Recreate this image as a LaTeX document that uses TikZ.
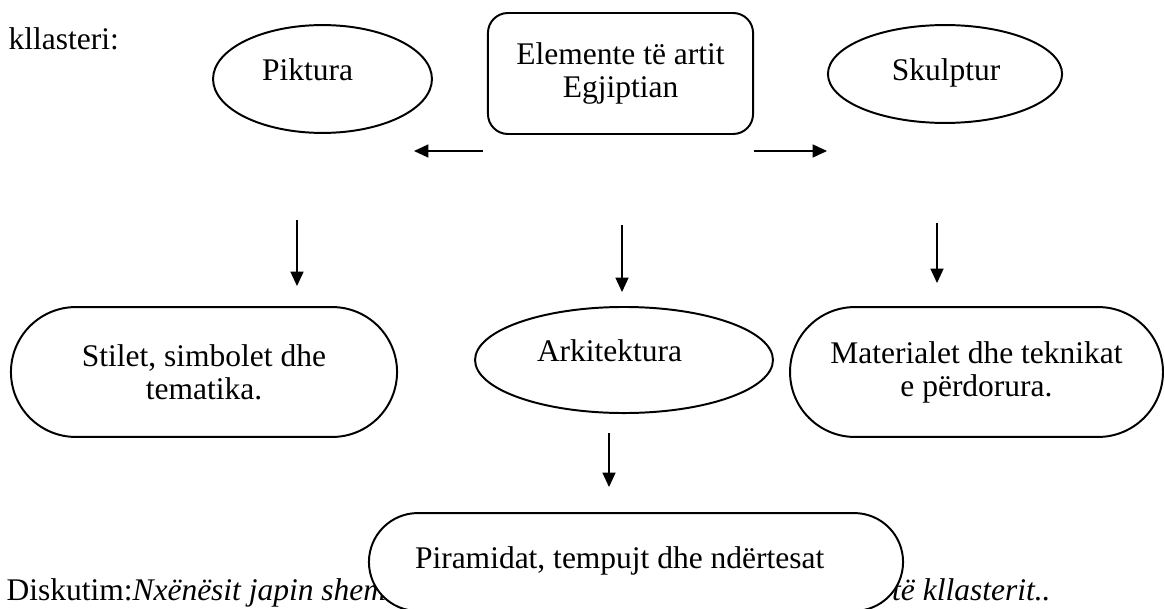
\documentclass[tikz,border=0pt]{standalone}
\usepackage{fontspec}
\setmainfont{Liberation Serif}
\usetikzlibrary{shapes.geometric,shapes.misc,arrows.meta}

\tikzset{
  oval/.style={draw, ellipse, line width=0.75pt, inner sep=0pt, text height=8.4pt, align=flush left},
  pill/.style={draw, rounded rectangle, line width=0.75pt, inner sep=0pt, align=center, fill=white},
  arr/.style={-{Triangle[length=5.5pt,width=5pt]}, line width=0.5pt}
}

\begin{document}
\begin{tikzpicture}[x=0.381pt, y=-0.381pt, font=\fontsize{12pt}{12.6pt}\selectfont]

\clip (0,0) rectangle (1165,608);

% page text round the cluster
\node[anchor=base west, inner sep=0pt] (kllasteri) at (8,50) {kllasteri:};
\node[anchor=base west, inner sep=0pt] (diskutim) at (6,600) {Diskutim:\textit{Nxënësit japin shem}};
\node[anchor=base east, inner sep=0pt] (kllasterit) at (1051,600) {\textit{e të kllasterit..}};

% top row
\node[draw, rounded corners=7.6pt, line width=0.75pt, minimum width=101pt, minimum height=46.1pt, align=center] (elemente) at (620.5,73.5) {Elemente të artit\\Egjiptian};
\node[oval, minimum width=83.4pt, minimum height=41.1pt, text width=46pt, text depth=7.6pt] (piktura) at (322.5,79) {Piktura};
\node[oval, minimum width=89.2pt, minimum height=37.3pt, text width=40.5pt, text depth=3.8pt] (skulptur) at (945,74) {Skulptur};

% middle row
\node[pill, minimum width=147.1pt, minimum height=49.5pt] (stilet) at (204,372) {Stilet, simbolet dhe\\tematika.};
\node[oval, minimum width=113.5pt, minimum height=40.4pt, text width=66.3pt, text depth=6.9pt] (arkitektura) at (624,360) {Arkitektura};
\node[pill, minimum width=142.1pt, minimum height=49.5pt] (materialet) at (976.5,372) {Materialet dhe teknikat\\e përdorura.};

% bottom, covers the line of text
\node[pill, minimum width=203.5pt, minimum height=37.3pt, text width=168.4pt, align=flush left, text height=8.4pt, text depth=3.8pt] (piramidat) at (636,562) {Piramidat, tempujt dhe ndërtesat};

% arrows
\coordinate (pikturaA) at (483,151);
\coordinate (pikturaB) at (414,151);
\coordinate (skulpturA) at (754,151);
\coordinate (skulpturB) at (827,151);
\coordinate (stiletA) at (297,220);
\coordinate (stiletB) at (297,286);
\coordinate (arkitekturaA) at (622,225);
\coordinate (arkitekturaB) at (622,292);
\coordinate (materialetA) at (937,223);
\coordinate (materialetB) at (937,283);
\coordinate (piramidatA) at (609,433);
\coordinate (piramidatB) at (609,487);

\draw[arr] (pikturaA) -- (pikturaB);
\draw[arr] (skulpturA) -- (skulpturB);
\draw[arr] (stiletA) -- (stiletB);
\draw[arr] (arkitekturaA) -- (arkitekturaB);
\draw[arr] (materialetA) -- (materialetB);
\draw[arr] (piramidatA) -- (piramidatB);

\end{tikzpicture}
\end{document}
